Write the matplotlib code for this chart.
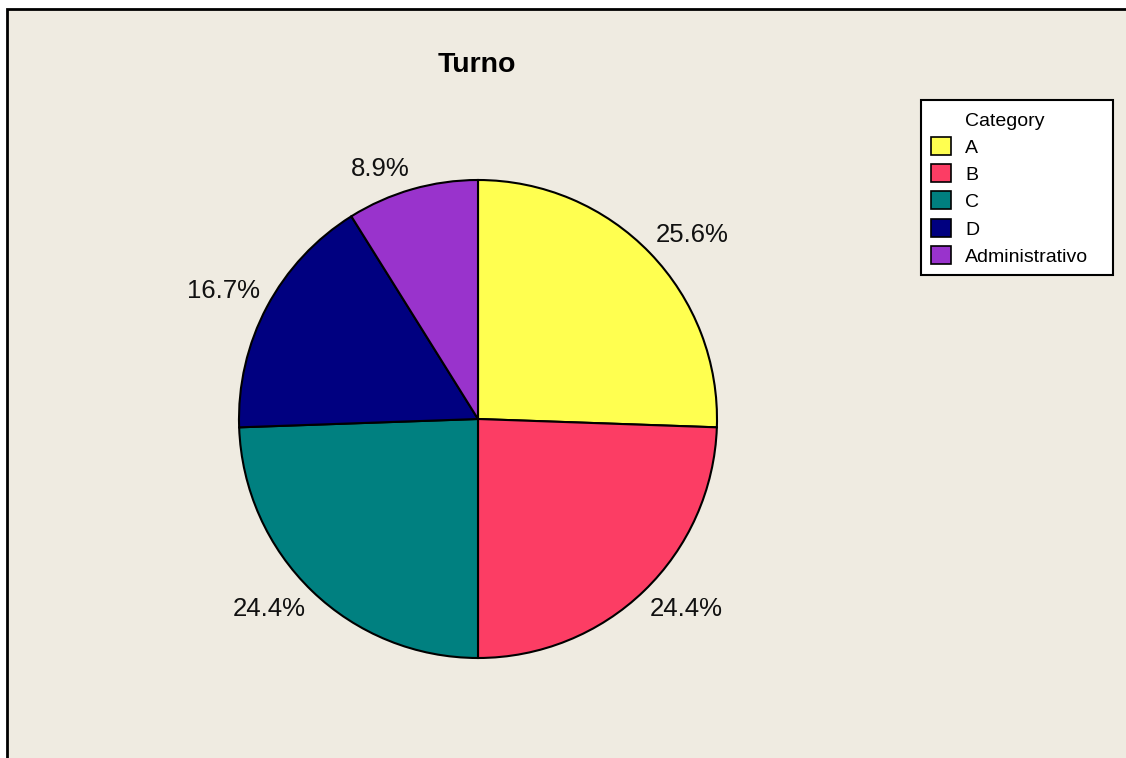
import matplotlib
matplotlib.use("Agg")
import numpy as np
import matplotlib.pyplot as plt
from matplotlib.patches import Rectangle

plt.rcParams["font.family"] = ["Liberation Sans", "DejaVu Sans"]

# Shift counts (90 in total)
categories = ["A", "B", "C", "D", "Administrativo"]
counts = [23, 22, 22, 15, 8]
colors = ["#FFFF50", "#FC3D64", "#008080", "#000080", "#9933CC"]

W, H = 1126, 758
BG = "#EFEBE1"


def fx(px):
    return px / W


def fy(py):
    return 1 - py / H


fig = plt.figure(figsize=(W / 100, H / 100), dpi=100, facecolor="white")

# panel background with a frame (right/bottom edges run off the canvas)
fig.patches.append(Rectangle((fx(7), fy(H + 20)), fx(W + 40), fy(9) - fy(H + 20),
                             transform=fig.transFigure, facecolor=BG,
                             edgecolor="black", linewidth=2, zorder=-5))

fig.text(fx(477), fy(65), "Turno", ha="center", va="center",
         fontsize=20.5, fontweight="bold")

cx, cy, r = 478, 419, 239
ax = fig.add_axes([fx(cx - r), fy(cy + r), fx(2 * r), (2 * r) / H])
ax.set_zorder(1)
wedges, texts, autotexts = ax.pie(
    counts, colors=colors, startangle=90, counterclock=False,
    autopct="%.1f%%",
    wedgeprops=dict(edgecolor="black", linewidth=1.5),
    textprops=dict(fontsize=18.5, color="#111111"))

# put each percentage just outside its wedge, anchored by the nearest corner
for w, t in zip(wedges, autotexts):
    mid = np.deg2rad((w.theta1 + w.theta2) / 2)
    c, s = np.cos(mid), np.sin(mid)
    t.set_position((1.035 * c, 1.035 * s))
    t.set_ha("left" if c > 0 else "right")
    t.set_va("bottom" if s > 0 else "top")

ax.set_xlim(-1, 1)
ax.set_ylim(-1, 1)
ax.set_aspect("equal")
ax.axis("off")

# legend box
lx0, lx1, ly0, ly1 = 921, 1113, 100, 275
fig.patches.append(Rectangle((fx(lx0), fy(ly1)), fx(lx1 - lx0), fy(ly0) - fy(ly1),
                             transform=fig.transFigure, facecolor="white",
                             edgecolor="black", linewidth=1.5, zorder=2))
fig.text(fx(965), fy(121), "Category", ha="left", va="center", fontsize=14, zorder=3)
for i, (name, col) in enumerate(zip(categories, colors)):
    yc = 146 + i * 27.2
    fig.patches.append(Rectangle((fx(931), fy(yc + 9)), fx(20), 18 / H,
                                 transform=fig.transFigure, facecolor=col,
                                 edgecolor="black", linewidth=1.2, zorder=3))
    fig.text(fx(965), fy(yc + 2.5), name, ha="left", va="center", fontsize=14, zorder=3)

fig.savefig("out.png", dpi=100, facecolor=fig.get_facecolor())
